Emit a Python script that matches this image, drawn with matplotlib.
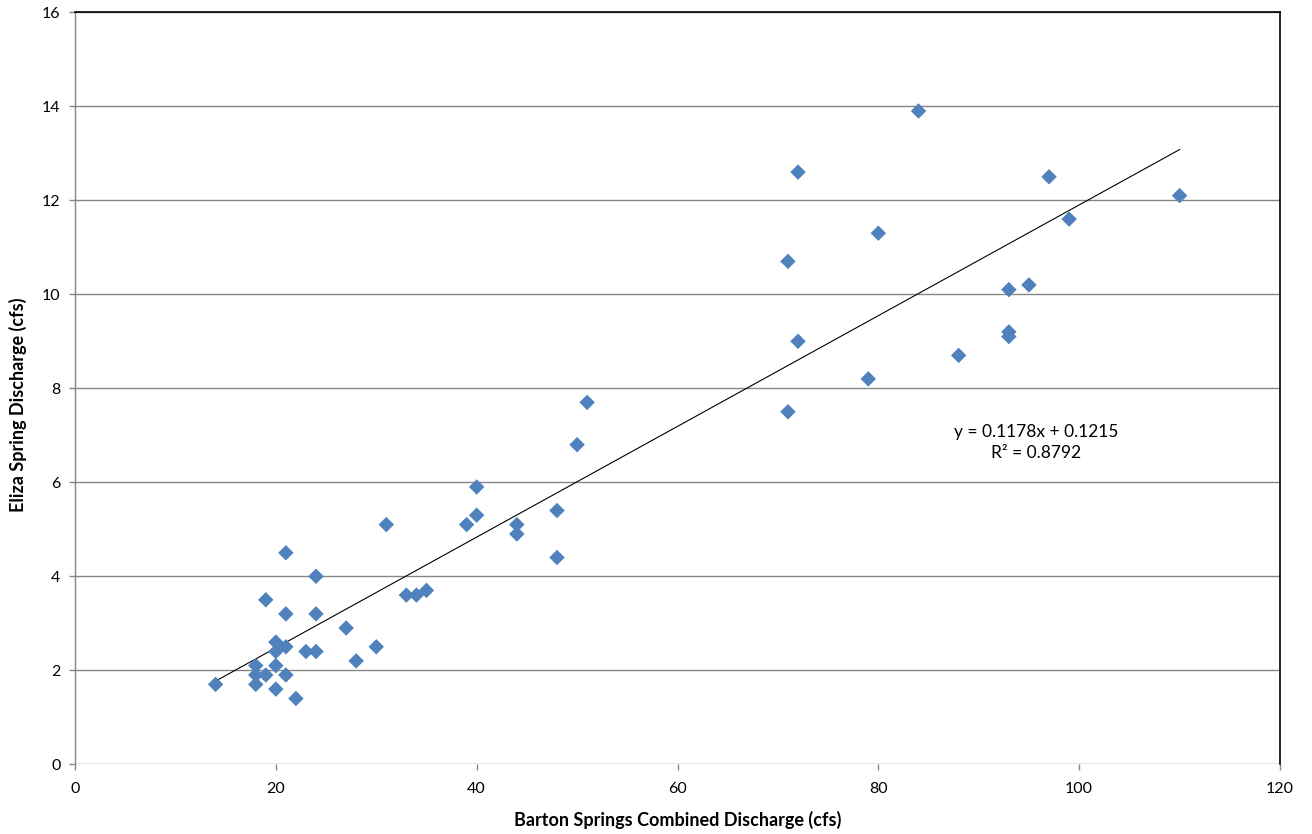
import matplotlib
matplotlib.use("Agg")
import matplotlib.pyplot as plt
import numpy as np

# Data
barton_cfs = [14, 18, 18, 18, 19, 19, 20, 20, 20, 20, 21, 21, 21, 21, 22, 23,
              24, 24, 24, 27, 28, 30, 31, 33, 34, 35, 39, 40, 40, 44, 44, 48,
              48, 50, 51, 71, 71, 72, 72, 79, 80, 84, 88, 93, 93, 93, 95, 97,
              99, 110]
eliza_cfs = [1.7, 2.1, 1.9, 1.7, 3.5, 1.9, 2.6, 2.4, 2.1, 1.6, 4.5, 3.2, 2.5, 1.9,
             1.4, 2.4, 4.0, 3.2, 2.4, 2.9, 2.2, 2.5, 5.1, 3.6, 3.6, 3.7, 5.1, 5.3,
             5.9, 5.1, 4.9, 5.4, 4.4, 6.8, 7.7, 10.7, 7.5, 12.6, 9.0, 8.2, 11.3,
             13.9, 8.7, 10.1, 9.2, 9.1, 10.2, 12.5, 11.6, 12.1]
slope = 0.1178
intercept = 0.1215
r_squared = 0.8792
x_ticks = [0, 20, 40, 60, 80, 100, 120]
y_ticks = [0, 2, 4, 6, 8, 10, 12, 14, 16]

plt.rcParams['font.family'] = ['Lato', 'DejaVu Sans']

fig = plt.figure(figsize=(13.12, 8.34), dpi=100)
ax = fig.add_axes([75/1312, 1-764.3/834, (1280-75)/1312, (764.3-12.3)/834])

ax.set_xlim(0, 120)
ax.set_ylim(0, 16)
ax.set_xticks(x_ticks)
ax.set_yticks(y_ticks)
ax.yaxis.grid(True, color='#868686', linewidth=1.0)
ax.set_axisbelow(True)

for s in ['top', 'right']:
    ax.spines[s].set_color('black')
    ax.spines[s].set_linewidth(1.2)
ax.spines['left'].set_color('#868686')
ax.spines['left'].set_linewidth(1.0)
ax.spines['bottom'].set_visible(False)
ax.tick_params(axis='both', direction='out', length=4.5, color='#868686',
               width=1.0, labelsize=11.5, labelcolor='black')
ax.tick_params(axis='x', pad=8)
ax.tick_params(axis='y', pad=6)

ax.scatter(barton_cfs, eliza_cfs, marker='D', s=62, color='#4F81BD',
           edgecolors='none', zorder=3)

xl = np.array([min(barton_cfs), max(barton_cfs)])
ax.plot(xl, slope * xl + intercept, color='black', linewidth=0.8, zorder=2)

ax.text(95.7, 7.08, f"y = {slope}x + {intercept}", ha='center', va='center',
        fontsize=12.5)
ax.text(95.7, 6.62, f"R² = {r_squared}", ha='center', va='center',
        fontsize=12.5)

ax.set_xlabel("Barton Springs Combined Discharge (cfs)", fontsize=13,
              fontweight='bold')
ax.set_ylabel("Eliza Spring Discharge (cfs)", fontsize=13,
              fontweight='bold')
ax.xaxis.set_label_coords(0.5, (764.3 - 820) / 752)
ax.yaxis.set_label_coords((18 - 75) / 1205, (764.3 - 405) / 752)
ax.xaxis.label.set_va('center')
ax.yaxis.label.set_va('center')

fig.savefig("out.png", dpi=100)
